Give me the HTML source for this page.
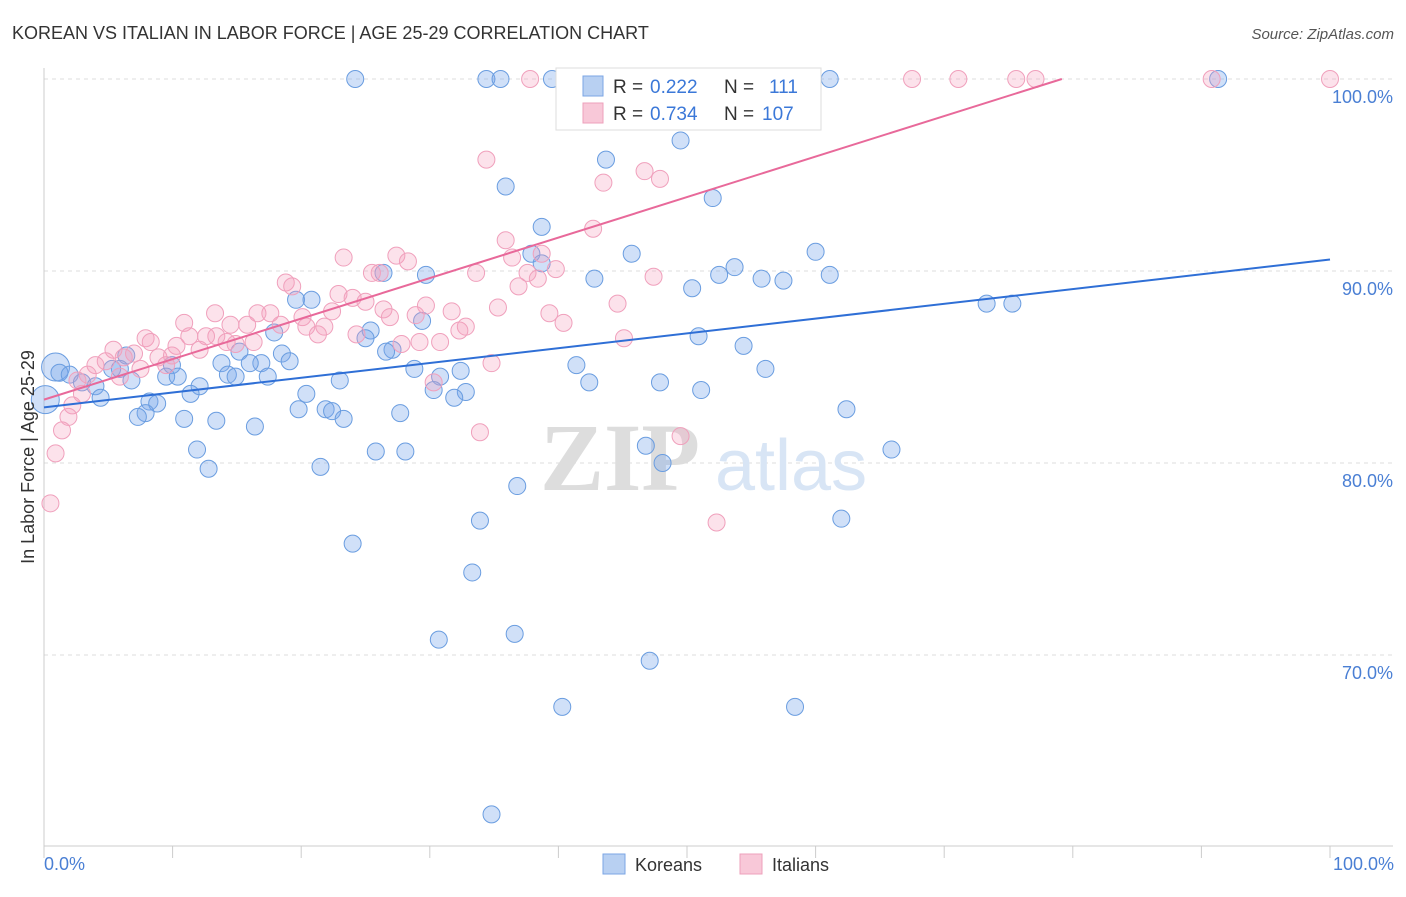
<!DOCTYPE html>
<html><head><meta charset="utf-8"><style>
body{margin:0;background:#fff;font-family:"Liberation Sans",sans-serif;}
</style></head><body>
<svg id="chart" width="1406" height="892" xmlns="http://www.w3.org/2000/svg">
<text x="12" y="39" font-size="18" fill="#333">KOREAN VS ITALIAN IN LABOR FORCE | AGE 25-29 CORRELATION CHART</text>
<text x="1394" y="39" font-size="15" fill="#555" text-anchor="end" font-style="italic">Source: ZipAtlas.com</text>
<g id="grid"></g>
<text x="700" y="490" font-size="96" fill="#ddd" text-anchor="end" font-family="Liberation Serif" font-weight="bold">ZIP</text>
<text x="715" y="490" font-size="72" fill="#d8e5f5">atlas</text>
<g id="axes"></g>
<g id="pts"></g>
<g id="lines"></g>
<text transform="translate(34,457) rotate(-90)" font-size="18" fill="#333" text-anchor="middle">In Labor Force | Age 25-29</text>
<text x="44" y="870" font-size="18" fill="#4a7fd4">0.0%</text>
<text x="1394" y="870" font-size="18" fill="#4a7fd4" text-anchor="end">100.0%</text>
<g>
<rect x="556" y="68" width="265" height="62" fill="#fff" stroke="#ddd"/>
<rect x="583" y="76" width="20" height="20" fill="#b8d0f2" stroke="#7ba6e4"/>
<rect x="583" y="103" width="20" height="20" fill="#f8c8d8" stroke="#eea0bb"/>
<g font-size="19" fill="#333">
<text x="613" y="93">R =</text><text x="650" y="93" fill="#3b78d8">0.222</text><text x="724" y="93">N =</text><text x="769" y="93" fill="#3b78d8">111</text>
<text x="613" y="120">R =</text><text x="650" y="120" fill="#3b78d8">0.734</text><text x="724" y="120">N =</text><text x="762" y="120" fill="#3b78d8">107</text>
</g>
</g>
<g>
<rect x="603" y="854" width="22" height="20" fill="#b8d0f2" stroke="#7ba6e4"/>
<text x="635" y="871" font-size="18" fill="#333">Koreans</text>
<rect x="740" y="854" width="22" height="20" fill="#f8c8d8" stroke="#eea0bb"/>
<text x="772" y="871" font-size="18" fill="#333">Italians</text>
</g>
</svg>
<script>
const yTicks=[100,90,80,70];
const koreanX=[24.2,34.4,35.5,39.5,61.1,91.3,49.5,43.7,35.9,52.0,38.7,60.0,45.7,37.9,38.7,53.7,52.5,61.1,29.7,26.4,42.8,55.8,57.5,50.4,19.6,20.8,73.3,75.3,29.4,25.4,17.9,50.9,54.4,25.0,27.1,26.6,15.2,18.5,6.4,19.1,13.8,16.9,16.0,9.95,41.4,28.8,56.1,0.9,1.2,2.0,5.3,5.9,14.3,17.4,32.4,9.5,10.4,14.9,6.8,30.8,2.95,23.0,42.4,47.9,12.1,4.0,30.3,32.8,20.4,11.4,51.1,4.4,31.9,8.2,8.8,0.1,19.8,21.9,22.4,27.7,7.9,7.3,62.4,23.3,10.9,13.4,16.4,46.8,11.9,25.8,28.1,65.9,48.1,12.8,21.5,36.8,33.9,62.0,24.0,33.3,36.6,30.7,47.1,40.3,58.4,34.8];
const koreanY=[100,100,100,100,100,100,96.8,95.8,94.4,93.8,92.3,91.0,90.9,90.9,90.4,90.2,89.8,89.8,89.8,89.9,89.6,89.6,89.5,89.1,88.5,88.5,88.3,88.3,87.4,86.9,86.8,86.6,86.1,86.5,85.9,85.8,85.8,85.7,85.6,85.3,85.2,85.2,85.2,85.1,85.1,84.9,84.9,85.0,84.7,84.6,84.9,84.9,84.6,84.5,84.8,84.5,84.5,84.5,84.3,84.5,84.2,84.3,84.2,84.2,84.0,84.0,83.8,83.7,83.6,83.6,83.8,83.4,83.4,83.2,83.1,83.3,82.8,82.8,82.7,82.6,82.6,82.4,82.8,82.3,82.3,82.2,81.9,80.9,80.7,80.6,80.6,80.7,80.0,79.7,79.8,78.8,77.0,77.1,75.8,74.3,71.1,70.8,69.7,67.3,67.3,61.7];
const italianX=[37.8,41.1,43.2,54.7,55.8,56.9,67.5,71.1,75.6,77.1,90.8,100,34.4,46.7,47.9,43.5,42.7,35.9,38.7,23.3,27.4,28.3,36.4,39.8,25.5,26.1,37.6,33.6,47.4,38.4,18.8,19.3,36.9,22.9,24.0,25.0,44.6,29.7,35.3,13.3,16.6,17.6,26.4,22.4,31.7,39.3,28.9,26.9,20.1,10.9,15.8,18.4,14.5,40.4,32.8,20.4,21.8,32.3,21.3,13.4,11.3,12.6,7.9,24.3,45.1,29.2,30.8,27.8,8.3,14.9,14.2,10.3,16.3,12.1,5.4,7.0,8.9,9.95,6.2,4.8,4.0,9.5,34.8,7.5,3.4,5.9,2.6,30.3,2.95,2.2,1.9,1.4,33.9,49.5,0.9,0.5,52.3];
const italianY=[100,100,100,100,100,100,100,100,100,100,100,100,95.8,95.2,94.8,94.6,92.2,91.6,90.9,90.7,90.8,90.5,90.7,90.1,89.9,89.9,89.9,89.9,89.7,89.6,89.4,89.2,89.2,88.8,88.6,88.4,88.3,88.2,88.1,87.8,87.8,87.8,88.0,87.9,87.9,87.8,87.7,87.6,87.6,87.3,87.2,87.2,87.2,87.3,87.1,87.1,87.1,86.9,86.7,86.6,86.6,86.6,86.5,86.7,86.5,86.3,86.3,86.2,86.3,86.2,86.3,86.1,86.3,85.9,85.9,85.7,85.5,85.6,85.5,85.3,85.1,85.1,85.2,84.9,84.6,84.5,84.3,84.2,83.6,83.0,82.4,81.7,81.6,81.4,80.5,77.9,76.9];
const koreanLine=[82.9,90.6];
const italianLine=[83.3,104.4];
const NS="http://www.w3.org/2000/svg";
const xs=v=>44+v*12.86, ys=v=>79+(100-v)*19.2;
function mk(t,a,p){const e=document.createElementNS(NS,t);for(const k in a)e.setAttribute(k,a[k]);p.appendChild(e);return e;}
const grid=document.getElementById('grid'),axes=document.getElementById('axes'),pts=document.getElementById('pts'),lines=document.getElementById('lines');
yTicks.forEach(t=>{
  const l=mk('line',{x1:44,x2:1393,y1:ys(t),y2:ys(t),stroke:'#ddd','stroke-dasharray':'4,4'},grid);
  
  
  const tx=mk('text',{x:1393,y:ys(t)+24,'font-size':18,fill:'#4a7fd4','text-anchor':'end'},grid);
  tx.textContent=t.toFixed(1)+'%';
  
  
});
mk('line',{x1:44,x2:44,y1:68,y2:846,stroke:'#ccc'},axes);
mk('line',{x1:44,x2:1393,y1:846,y2:846,stroke:'#ccc'},axes);
for(let i=0;i<=10;i++){const x=xs(i*10);mk('line',{x1:x,x2:x,y1:846,y2:858,stroke:'#ccc'},axes);}
function dots(X,Y,fill,stroke,name){
  X.forEach((v,i)=>{
    const big=(v<1.5&&(Y[i]>84.8&&Y[i]<85.2||Y[i]>83.2&&Y[i]<83.4));
    const c=mk('circle',{cx:xs(v),cy:ys(Y[i]),r:big?14:8.5,fill:fill,stroke:stroke,'stroke-width':1},pts);
    
    
  });
}
dots(koreanX,koreanY,'rgba(120,165,235,0.35)','#6a9de0','korean');
dots(italianX,italianY,'rgba(245,160,190,0.3)','#f0a0bc','italian');
const kl=mk('line',{x1:xs(0),y1:ys(koreanLine[0]),x2:xs(100),y2:ys(koreanLine[1]),stroke:'#2f6fd6','stroke-width':2},lines);


const endX=(100-italianLine[0])/(italianLine[1]-italianLine[0])*100;
const il=mk('line',{x1:xs(0),y1:ys(italianLine[0]),x2:xs(endX),y2:ys(100),stroke:'#e8699a','stroke-width':2},lines);


</script>
</body></html>
